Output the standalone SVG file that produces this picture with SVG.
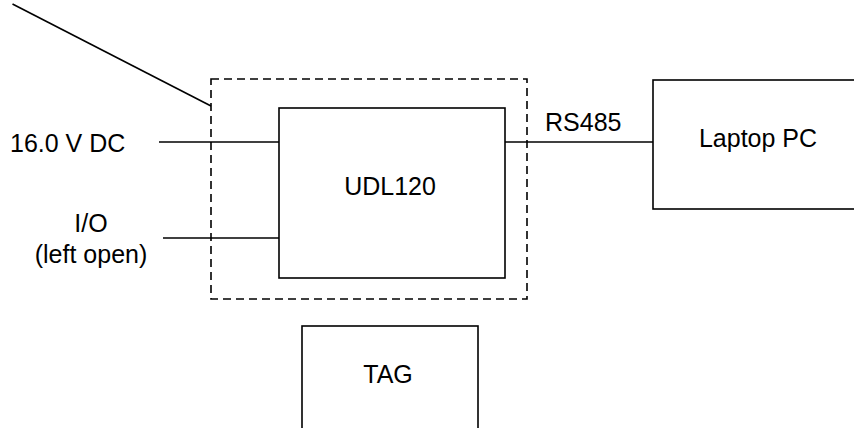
<svg xmlns="http://www.w3.org/2000/svg" width="854" height="428" viewBox="0 0 854 428">
<style>
.box{fill:none;stroke:#000;stroke-width:1.6}
.dash{fill:none;stroke:#000;stroke-width:1.6;stroke-dasharray:8,5}
.ln{stroke:#000;stroke-width:1.6;fill:none}
text{font-family:"Liberation Sans",Arial,sans-serif;font-size:25px;fill:#000}
</style>
<rect width="854" height="428" fill="#fff"/>
<g id="enclosure"><rect class="dash" x="211" y="79" width="316" height="220"/></g>
<g id="udl120"><rect class="box" x="279" y="108" width="226" height="170"/><text x="390" y="195" text-anchor="middle">UDL120</text></g>
<g id="laptop"><rect class="box" x="653" y="80" width="220" height="129"/><text x="758" y="147" text-anchor="middle">Laptop PC</text></g>
<g id="tag"><rect class="box" x="302" y="326" width="176" height="120"/><text x="388" y="383" text-anchor="middle">TAG</text></g>
<g id="power"><text x="10" y="152">16.0 V DC</text></g>
<g id="io"><text x="91" y="232" text-anchor="middle">I/O</text><text x="91" y="263" text-anchor="middle">(left open)</text></g>
<g id="connectors">
<line class="ln" x1="12.5" y1="4" x2="211" y2="106"/>
<line class="ln" x1="159" y1="142" x2="279" y2="142"/>
<line class="ln" x1="163" y1="238" x2="279" y2="238"/>
<line class="ln" x1="505" y1="142" x2="653" y2="142"/>
<text x="545" y="131">RS485</text>
</g>
</svg>
